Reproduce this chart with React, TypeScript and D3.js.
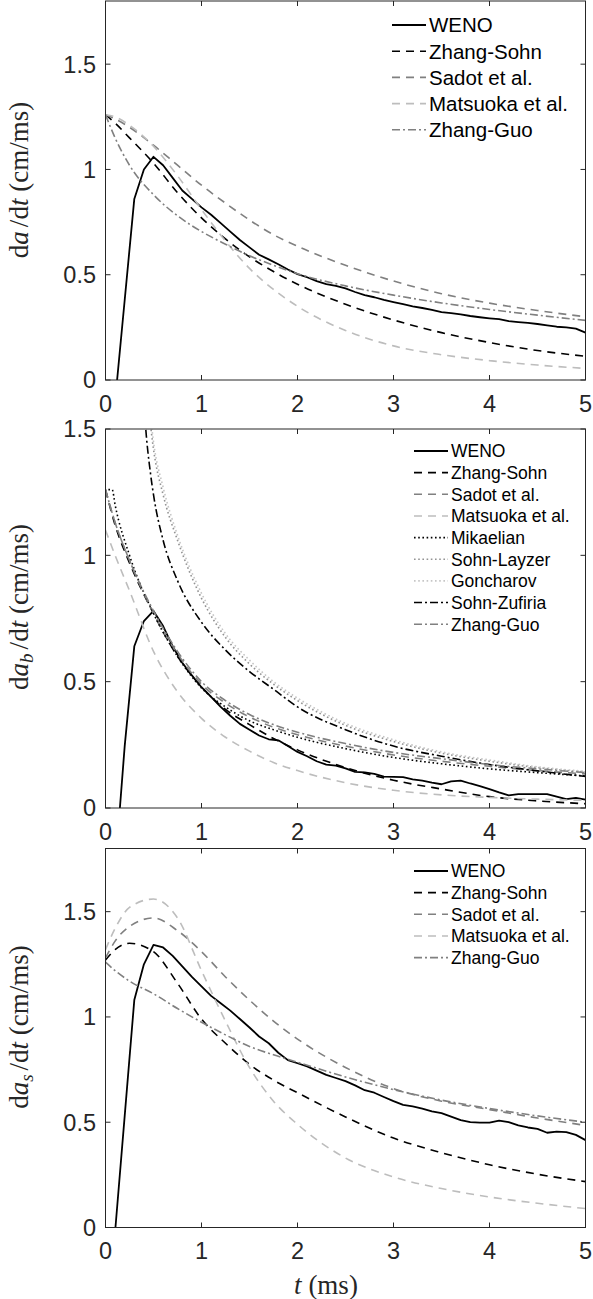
import React from 'react';
import * as d3 from 'd3';

// ---------- shared axis values ----------
const T_TICKS = [0, 1, 2, 3, 4, 5];
const V_TICKS = [0, 0.5, 1, 1.5];

// WENO samples are taken every 0.1 ms
const tWeno = [
  0.1, 0.2, 0.3, 0.4, 0.5, 0.6, 0.7, 0.8, 0.9, 1.0,
  1.1, 1.2, 1.3, 1.4, 1.5, 1.6, 1.7, 1.8, 1.9, 2.0,
  2.1, 2.2, 2.3, 2.4, 2.5, 2.6, 2.7, 2.8, 2.9, 3.0,
  3.1, 3.2, 3.3, 3.4, 3.5, 3.6, 3.7, 3.8, 3.9, 4.0,
  4.1, 4.2, 4.3, 4.4, 4.5, 4.6, 4.7, 4.8, 4.9, 5.0,
];
// model curves are evaluated on a coarser grid
const tModel = [0, 0.1, 0.25, 0.5, 0.75, 1, 1.25, 1.5, 1.75, 2, 2.5, 3, 3.5, 4, 4.5, 5];

// ---------- panel (a): total amplitude ----------
const a_weno = [
  -0.1, 0.38, 0.86, 1.0, 1.06, 1.02, 0.96, 0.9, 0.86, 0.82,
  0.785, 0.745, 0.705, 0.665, 0.63, 0.595, 0.573, 0.55, 0.525, 0.503,
  0.488, 0.47, 0.455, 0.447, 0.435, 0.418, 0.403, 0.393, 0.38, 0.37,
  0.36, 0.35, 0.342, 0.333, 0.322, 0.318, 0.312, 0.304, 0.298, 0.293,
  0.289, 0.28, 0.275, 0.271, 0.266, 0.259, 0.253, 0.25, 0.244, 0.225,
];
const a_zhangSohn = [1.26, 1.22, 1.15, 1.03, 0.89, 0.77, 0.67, 0.585, 0.515, 0.455, 0.36, 0.285, 0.225, 0.178, 0.14, 0.113];
const a_sadot = [1.26, 1.24, 1.2, 1.115, 1.02, 0.925, 0.84, 0.76, 0.69, 0.635, 0.545, 0.47, 0.41, 0.365, 0.33, 0.3];
const a_matsuoka = [1.26, 1.25, 1.21, 1.11, 0.97, 0.81, 0.66, 0.53, 0.43, 0.35, 0.235, 0.162, 0.12, 0.092, 0.071, 0.055];
const a_zhangGuo = [1.26, 1.15, 1.02, 0.88, 0.78, 0.705, 0.645, 0.59, 0.545, 0.505, 0.447, 0.403, 0.366, 0.335, 0.308, 0.283];

// ---------- panel (b): bubble amplitude ----------
const b_weno = [
  -0.245, 0.245, 0.64, 0.74, 0.78, 0.72, 0.64, 0.575, 0.525, 0.478,
  0.44, 0.4, 0.365, 0.333, 0.31, 0.287, 0.272, 0.268, 0.245, 0.222,
  0.205, 0.185, 0.172, 0.168, 0.157, 0.143, 0.141, 0.135, 0.124, 0.123,
  0.122, 0.113, 0.108, 0.1, 0.094, 0.105, 0.108, 0.097, 0.087, 0.075,
  0.062, 0.05, 0.055, 0.055, 0.055, 0.055, 0.045, 0.035, 0.04, 0.033,
];
const b_zhangSohn = [1.26, 1.12, 0.97, 0.77, 0.6, 0.48, 0.39, 0.33, 0.275, 0.23, 0.16, 0.11, 0.075, 0.045, 0.028, 0.017];
const b_sadot = [1.26, 1.13, 0.98, 0.77, 0.61, 0.49, 0.415, 0.36, 0.32, 0.29, 0.245, 0.21, 0.185, 0.165, 0.148, 0.135];
const b_matsuoka = [1.1, 1.0, 0.86, 0.62, 0.46, 0.355, 0.28, 0.225, 0.18, 0.148, 0.1, 0.07, 0.052, 0.042, 0.035, 0.03];
const tMikaelian = [0.03, 0.07, 0.1, 0.25, 0.5, 0.75, 1, 1.25, 1.5, 1.75, 2, 2.5, 3, 3.5, 4, 4.5, 5];
const b_mikaelian = [1.26, 1.26, 1.2, 1.0, 0.77, 0.6, 0.475, 0.4, 0.345, 0.31, 0.28, 0.235, 0.2, 0.175, 0.155, 0.14, 0.127];
const tLayzer = [0.45, 0.5, 0.6, 0.75, 1, 1.25, 1.5, 1.75, 2, 2.5, 3, 3.5, 4, 4.5, 5];
const b_sohnLayzer = [1.58, 1.42, 1.24, 1.06, 0.83, 0.675, 0.57, 0.49, 0.425, 0.327, 0.263, 0.217, 0.185, 0.16, 0.142];
const b_goncharov = [1.62, 1.45, 1.27, 1.08, 0.85, 0.69, 0.585, 0.5, 0.435, 0.335, 0.27, 0.222, 0.19, 0.163, 0.145];
const tZufiria = [0.38, 0.41, 0.47, 0.5, 0.6, 0.75, 1, 1.25, 1.5, 1.75, 2, 2.5, 3, 3.5, 4, 4.5, 5];
const b_sohnZufiria = [1.75, 1.55, 1.32, 1.24, 1.06, 0.9, 0.735, 0.625, 0.54, 0.47, 0.4, 0.31, 0.245, 0.205, 0.172, 0.147, 0.125];
const b_zhangGuo = [1.26, 1.13, 0.98, 0.78, 0.62, 0.5, 0.425, 0.37, 0.33, 0.3, 0.255, 0.22, 0.195, 0.172, 0.155, 0.14];

// ---------- panel (c): spike amplitude ----------
const s_weno = [
  -0.02, 0.53, 1.08, 1.25, 1.342, 1.33, 1.29, 1.24, 1.19, 1.145,
  1.1, 1.065, 1.03, 0.99, 0.95, 0.907, 0.875, 0.83, 0.795, 0.78,
  0.765, 0.745, 0.725, 0.71, 0.695, 0.675, 0.652, 0.64, 0.62, 0.6,
  0.582, 0.575, 0.565, 0.552, 0.543, 0.527, 0.51, 0.5, 0.498, 0.498,
  0.508, 0.5, 0.485, 0.475, 0.468, 0.45, 0.455, 0.453, 0.44, 0.415,
];
const s_zhangSohn = [1.27, 1.32, 1.35, 1.31, 1.16, 0.99, 0.875, 0.775, 0.7, 0.64, 0.525, 0.425, 0.355, 0.298, 0.253, 0.218];
const s_sadot = [1.28, 1.36, 1.43, 1.47, 1.41, 1.31, 1.19, 1.08, 0.98, 0.895, 0.76, 0.66, 0.6, 0.56, 0.52, 0.485];
const s_matsuoka = [1.32, 1.42, 1.52, 1.56, 1.47, 1.22, 0.98, 0.76, 0.6, 0.49, 0.33, 0.24, 0.185, 0.145, 0.115, 0.09];
const s_zhangGuo = [1.26, 1.22, 1.17, 1.11, 1.04, 0.975, 0.915, 0.86, 0.82, 0.785, 0.715, 0.655, 0.605, 0.565, 0.53, 0.5];

// ---------- styles ----------
const BLACK = '#000000';
const GRAY = '#808080';
const LIGHT = '#bdbdbd';
const MIDDOT = '#939393';
const PALEDOT = '#c6c6c6';
const AXIS = '#262626';

const DASH = '8,6';
const DOT = '1.6,2.6';
const DASHDOT = '8,3,2,3';

type Series = {
  name: string;
  t: number[];
  v: number[];
  color: string;
  dash?: string;
  width: number;
  smooth: boolean;
};

const mk = (name: string, t: number[], v: number[], color: string, dash: string | undefined, smooth = true, width = 1.6): Series =>
  ({ name, t, v, color, dash, width, smooth });

const panelA: Series[] = [
  mk('WENO', tWeno, a_weno, BLACK, undefined, false, 1.8),
  mk('Zhang-Sohn', tModel, a_zhangSohn, BLACK, DASH),
  mk('Sadot et al.', tModel, a_sadot, GRAY, DASH),
  mk('Matsuoka et al.', tModel, a_matsuoka, LIGHT, DASH),
  mk('Zhang-Guo', tModel, a_zhangGuo, GRAY, DASHDOT),
];
const panelB: Series[] = [
  mk('WENO', tWeno, b_weno, BLACK, undefined, false, 1.8),
  mk('Zhang-Sohn', tModel, b_zhangSohn, BLACK, DASH),
  mk('Sadot et al.', tModel, b_sadot, GRAY, DASH),
  mk('Matsuoka et al.', tModel, b_matsuoka, LIGHT, DASH),
  mk('Mikaelian', tMikaelian, b_mikaelian, BLACK, DOT),
  mk('Sohn-Layzer', tLayzer, b_sohnLayzer, MIDDOT, DOT),
  mk('Goncharov', tLayzer, b_goncharov, PALEDOT, DOT),
  mk('Sohn-Zufiria', tZufiria, b_sohnZufiria, BLACK, DASHDOT),
  mk('Zhang-Guo', tModel, b_zhangGuo, GRAY, DASHDOT),
];
const panelC: Series[] = [
  mk('WENO', tWeno, s_weno, BLACK, undefined, false, 1.8),
  mk('Zhang-Sohn', tModel, s_zhangSohn, BLACK, DASH),
  mk('Sadot et al.', tModel, s_sadot, GRAY, DASH),
  mk('Matsuoka et al.', tModel, s_matsuoka, LIGHT, DASH),
  mk('Zhang-Guo', tModel, s_zhangGuo, GRAY, DASHDOT),
];

// ---------- layout ----------
const W = 593;
const H = 1299;
const X_LEFT = 105.5;
const X_RIGHT = 585.5;
const TICK_LEN = 5;
const TICK_FONT = 23.5;
const TITLE_FONT = 27;
const SANS = '"Liberation Sans", Arial, Helvetica, sans-serif';
const SERIF = '"Liberation Serif", "Times New Roman", Times, serif';

type PanelSpec = {
  id: string;
  top: number;
  bottom: number;
  vMax: number;
  sub: string | null;
  series: Series[];
  legend: { x0: number; x1: number; tx: number; y0: number; dy: number; fs: number };
  labelCenter: number;
  showXTitle: boolean;
};

const PANELS: PanelSpec[] = [
  {
    id: 'pa', top: 1, bottom: 380, vMax: 1.8, sub: null, series: panelA,
    legend: { x0: 392, x1: 426, tx: 429, y0: 25, dy: 26.2, fs: 20.5 },
    labelCenter: 180, showXTitle: false,
  },
  {
    id: 'pb', top: 429, bottom: 808, vMax: 1.5, sub: 'b', series: panelB,
    legend: { x0: 414, x1: 448, tx: 451, y0: 451, dy: 21.65, fs: 17.5 },
    labelCenter: 607, showXTitle: false,
  },
  {
    id: 'pc', top: 848.5, bottom: 1227.5, vMax: 1.8, sub: 's', series: panelC,
    legend: { x0: 414, x1: 448, tx: 451, y0: 871, dy: 21.65, fs: 17.5 },
    labelCenter: 1027, showXTitle: true,
  },
];

function Panel({ p }: { p: PanelSpec }) {
  const x = d3.scaleLinear().domain([0, 5]).range([X_LEFT, X_RIGHT]);
  const y = d3.scaleLinear().domain([0, p.vMax]).range([p.bottom, p.top]);
  const clipId = `clip-${p.id}`;
  const fmt = (v: number) => String(v);

  return (
    <g>
      <defs>
        <clipPath id={clipId}>
          <rect x={X_LEFT} y={p.top} width={X_RIGHT - X_LEFT} height={p.bottom - p.top} />
        </clipPath>
      </defs>

      {/* curves */}
      <g clipPath={`url(#${clipId})`}>
        {p.series.map((s) => {
          const pts: [number, number][] = s.t.map((t, i) => [t, s.v[i]]);
          const gen = d3
            .line<[number, number]>()
            .x((d) => x(d[0]))
            .y((d) => y(d[1]))
            .curve(s.smooth ? d3.curveMonotoneX : d3.curveLinear);
          return (
            <path
              key={s.name}
              d={gen(pts) || ''}
              fill="none"
              stroke={s.color}
              strokeWidth={s.width}
              strokeDasharray={s.dash}
              strokeLinejoin="round"
            />
          );
        })}
      </g>

      {/* frame */}
      <rect
        x={X_LEFT}
        y={p.top}
        width={X_RIGHT - X_LEFT}
        height={p.bottom - p.top}
        fill="none"
        stroke={AXIS}
        strokeWidth={1}
      />

      {/* x ticks, bottom and top */}
      {T_TICKS.map((t) => (
        <g key={`xt${t}`}>
          <line x1={x(t)} x2={x(t)} y1={p.bottom} y2={p.bottom - TICK_LEN} stroke={AXIS} />
          <line x1={x(t)} x2={x(t)} y1={p.top} y2={p.top + TICK_LEN} stroke={AXIS} />
          <text
            x={x(t)}
            y={p.bottom + 31.5}
            textAnchor="middle"
            fontFamily={SANS}
            fontSize={TICK_FONT}
            fill={AXIS}
          >
            {fmt(t)}
          </text>
        </g>
      ))}

      {/* y ticks, left and right */}
      {V_TICKS.map((v) => (
        <g key={`yt${v}`}>
          <line x1={X_LEFT} x2={X_LEFT + TICK_LEN} y1={y(v)} y2={y(v)} stroke={AXIS} />
          <line x1={X_RIGHT} x2={X_RIGHT - TICK_LEN} y1={y(v)} y2={y(v)} stroke={AXIS} />
          <text
            x={X_LEFT - 9.5}
            y={y(v) + 8.4}
            textAnchor="end"
            fontFamily={SANS}
            fontSize={TICK_FONT}
            fill={AXIS}
          >
            {fmt(v)}
          </text>
        </g>
      ))}

      {/* y title */}
      <text
        transform={`translate(28,${p.labelCenter}) rotate(-90)`}
        textAnchor="middle"
        fontFamily={SERIF}
        fontSize={TITLE_FONT}
        fill={AXIS}
      >
        <tspan>d</tspan>
        <tspan fontStyle="italic">a</tspan>
        {p.sub && (
          <tspan fontStyle="italic" fontSize={19} dy={5}>
            {p.sub}
          </tspan>
        )}
        <tspan dy={p.sub ? -5 : 0} dx={4}>/d</tspan>
        <tspan fontStyle="italic">t</tspan>
        <tspan>{' (cm/ms)'}</tspan>
      </text>

      {/* legend */}
      {p.series.map((s, i) => {
        const ly = p.legend.y0 + i * p.legend.dy;
        return (
          <g key={`lg${s.name}`}>
            <line
              x1={p.legend.x0}
              x2={p.legend.x1}
              y1={ly}
              y2={ly}
              stroke={s.color}
              strokeWidth={s.width}
              strokeDasharray={s.dash}
            />
            <text
              x={p.legend.tx}
              y={ly + p.legend.fs * 0.36}
              fontFamily={SANS}
              fontSize={p.legend.fs}
              fill="#000"
            >
              {s.name}
            </text>
          </g>
        );
      })}

      {p.showXTitle && (
        <text x={326} y={1294} textAnchor="middle" fontFamily={SERIF} fontSize={TITLE_FONT} fill={AXIS}>
          <tspan fontStyle="italic">t</tspan>
          <tspan>{' (ms)'}</tspan>
        </text>
      )}
    </g>
  );
}

export default function App() {
  return (
    <svg
      width={W}
      height={H}
      viewBox={`0 0 ${W} ${H}`}
      style={{ position: 'absolute', left: 0, top: 0, background: '#fff' }}
    >
      <rect x={0} y={0} width={W} height={H} fill="#fff" />
      {PANELS.map((p) => (
        <Panel key={p.id} p={p} />
      ))}
    </svg>
  );
}
